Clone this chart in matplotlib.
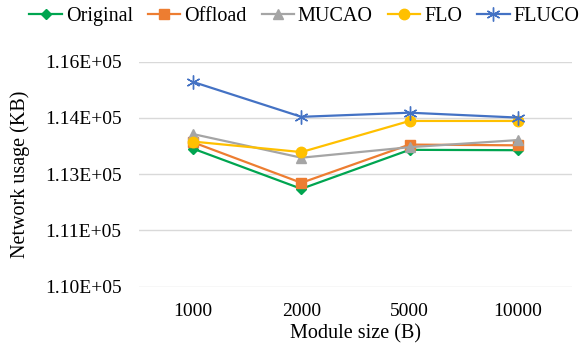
import numpy as np
import matplotlib.pyplot as plt

plt.rcParams['font.family'] = ['Liberation Serif', 'DejaVu Serif']

sizes = ['1000', '2000', '5000', '10000']
original = [113680, 112610, 113650, 113640]
offload = [113850, 112770, 113790, 113770]
mucao = [114070, 113440, 113720, 113910]
flo = [113870, 113590, 114420, 114420]
fluco = [115460, 114530, 114640, 114510]

yticks = [110000, 111500, 113000, 114500, 116000]
ytick_labels = ['1.10E+05', '1.11E+05', '1.13E+05', '1.14E+05', '1.16E+05']

fig = plt.figure(figsize=(5.8, 3.53), dpi=100)
ax = fig.add_axes([0.2397, 0.1878, 0.7463, 0.6374])

x = np.arange(len(sizes))
ax.plot(x, original, color='#00A550', marker='D', markersize=5.5, lw=1.6, label='Original')
ax.plot(x, offload, color='#ED7D31', marker='s', markersize=7, lw=1.6, label='Offload')
ax.plot(x, mucao, color='#A5A5A5', marker='^', markersize=7, lw=1.6, label='MUCAO')
ax.plot(x, flo, color='#FFC000', marker='o', markersize=7.5, lw=1.6, label='FLO')
ax.plot(x, fluco, color='#4472C4', marker=(6, 2, 0), markersize=10, mew=1.0, lw=1.6, label='FLUCO')

ax.set_xlim(-0.5, len(sizes) - 0.5)
ax.set_ylim(110000, 116000)
ax.set_xticks(x)
ax.set_xticklabels(sizes)
ax.set_yticks(yticks)
ax.set_yticklabels(ytick_labels)
ax.tick_params(axis='y', length=0, labelsize=14, pad=12.5)
ax.tick_params(axis='x', length=0, labelsize=14, pad=12)
ax.yaxis.grid(True, color='#D9D9D9', lw=1)
ax.set_axisbelow(True)
for s in ax.spines.values():
    s.set_visible(False)

ax.set_xlabel('Module size (B)', fontsize=14.5, labelpad=3)
ax.set_ylabel('Network usage (KB)', fontsize=14.5, labelpad=11)

fig.legend(loc='center', bbox_to_anchor=(0.525, 0.952), ncol=5, frameon=False,
           fontsize=14.5, handlelength=1.6, handletextpad=0.2, columnspacing=0.75,
           borderaxespad=0.0, borderpad=0.0)

fig.savefig('out.png', dpi=100)
